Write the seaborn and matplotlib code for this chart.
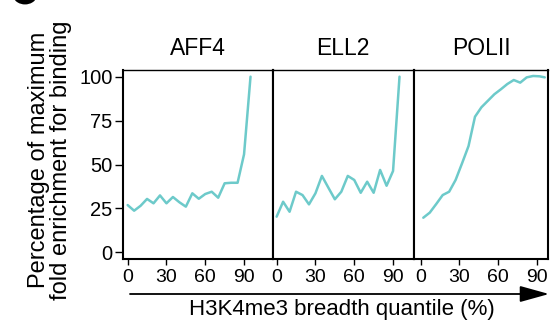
import matplotlib
matplotlib.use("Agg")
import matplotlib.pyplot as plt
import seaborn as sns
import pandas as pd
from matplotlib.patches import FancyArrowPatch, Arc

# ---- data ----
panel_names = ["AFF4", "ELL2", "POLII"]
quantile_a = [0, 5, 10, 15, 20, 25, 30, 35, 40, 45, 50, 55, 60, 65, 70, 75, 80, 85, 90, 95]
quantile_b = [0, 5, 10, 15, 20, 25, 30, 35, 40, 45, 50, 55, 60, 65, 70, 75, 80, 85, 90, 95]
quantile_c = [2, 7, 12, 17, 22, 27, 32, 37, 42, 47, 52, 57, 62, 67, 72, 77, 82, 87, 92, 96]
aff4 = [26.9, 23.7, 26.5, 30.4, 27.9, 32.4, 27.9, 31.5, 28.5, 26.0,
        33.6, 30.5, 33.2, 34.5, 31.1, 39.3, 39.6, 39.6, 55.8, 100.0]
ell2 = [20.3, 28.8, 23.1, 34.5, 32.6, 27.3, 33.6, 43.5, 36.8, 30.2,
        34.5, 43.5, 41.2, 33.9, 40.2, 33.9, 46.9, 37.9, 46.3, 100.0]
polii = [19.7, 22.6, 27.5, 32.6, 34.5, 41.2, 50.7, 60.5, 77.2, 82.6,
         86.3, 90.0, 92.8, 95.8, 98.1, 96.6, 99.6, 100.4, 100.2, 99.6]
x_ticks = [0, 30, 60, 90]
y_ticks = [0, 25, 50, 75, 100]
x_label = "H3K4me3 breadth quantile (%)"
y_label = "Percentage of maximum\nfold enrichment for binding"

series = [(quantile_a, aff4), (quantile_b, ell2), (quantile_c, polii)]

sns.set_theme(style="ticks")
plt.rcParams["font.family"] = ["Liberation Sans", "DejaVu Sans"]

W, H = 553, 321
fig = plt.figure(figsize=(W / 100, H / 100), dpi=100)
gs = fig.add_gridspec(1, 3, left=123 / W, right=548 / W,
                      bottom=1 - 259 / H, top=1 - 70 / H,
                      wspace=0, width_ratios=[149.5, 141.5, 134])

xlims = [(-3.6, 112), (-3.2, 106.2), (-5.2, 98.5)]
line_color = "#6dcaca"

for i, (name, (qx, vals)) in enumerate(zip(panel_names, series)):
    ax = fig.add_subplot(gs[0, i])
    df = pd.DataFrame({"q": qx, "v": vals})
    sns.lineplot(data=df, x="q", y="v", ax=ax, color=line_color, linewidth=1.8)
    ax.set_xlim(*xlims[i])
    ax.set_ylim(-3.8, 103.8)
    ax.set_xlabel("")
    ax.set_ylabel("")
    ax.set_xticks(x_ticks)
    ax.set_xticklabels([str(t) for t in x_ticks])
    ax.tick_params(axis="x", length=4.5, width=1.0, pad=3, labelsize=14, colors="black")
    if i == 0:
        ax.set_yticks(y_ticks)
        ax.set_yticklabels([str(t) for t in y_ticks])
        ax.tick_params(axis="y", length=6, width=1.0, pad=1.5, labelsize=14.5, colors="black")
    else:
        ax.set_yticks([])
    for side, sp in ax.spines.items():
        sp.set_visible(True)
        sp.set_color("black")
        sp.set_linewidth(1.0 if side == "top" else 1.5)
    ax.set_title(name, fontsize=16.5, pad=11, color="black")

fig.text(50 / W, 1 - 160 / H, y_label, rotation=90, ha="center", va="center",
         multialignment="center", fontsize=17, linespacing=1.05, color="black")
fig.text(342 / W, 1 - 315 / H, x_label, ha="center", va="baseline",
         fontsize=16, color="black")

arrow = FancyArrowPatch((130 / W, 1 - 294 / H), (549 / W, 1 - 294 / H),
                        transform=fig.transFigure,
                        arrowstyle="-|>,head_length=0.9,head_width=0.25",
                        mutation_scale=20, linewidth=1.3, color="black",
                        shrinkA=0, shrinkB=0)
fig.add_artist(arrow)

# bottom of a cropped panel letter at the top-left corner
corner = Arc((25 / W, 1 - (-6) / H), 20 / W, 16 / H, theta1=200, theta2=340,
             transform=fig.transFigure, color="black", linewidth=3.5)
fig.add_artist(corner)

fig.savefig("out.png", dpi=100)
